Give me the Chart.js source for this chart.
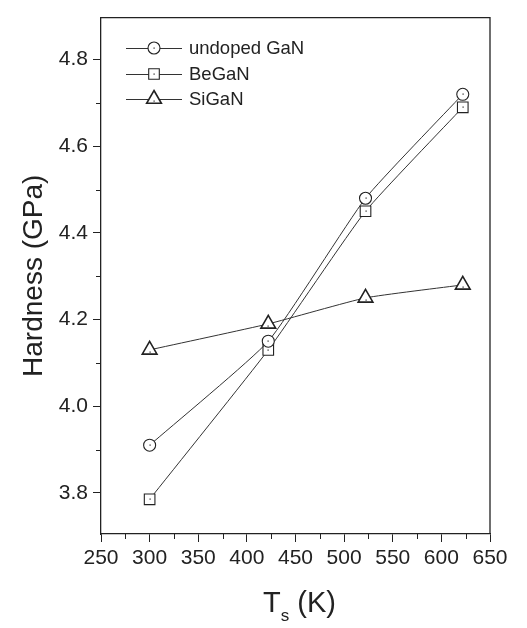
<!DOCTYPE html>
<html>
<head>
<meta charset="UTF-8">
<title>Hardness vs Ts</title>
<script src="https://cdn.jsdelivr.net/npm/chart.js@4/dist/chart.umd.min.js"></script>
<style>
  html, body { margin: 0; padding: 0; background: #fff; }
  #wrap { width: 527px; height: 628px; position: relative; }
</style>
</head>
<body>
<div id="wrap"><canvas id="chart" width="527" height="628"></canvas></div>
<script>
// data
const temps = [300, 422, 522, 622];
const undopedGaN = [3.91, 4.15, 4.48, 4.72];
const beGaN = [3.785, 4.13, 4.45, 4.69];
const siGaN = [4.13, 4.19, 4.25, 4.28];
const seriesNames = ['undoped GaN', 'BeGaN', 'SiGaN'];

const xTicks = [250, 300, 350, 400, 450, 500, 550, 600, 650];
const yTicks = [3.8, 4.0, 4.2, 4.4, 4.6, 4.8];
const xMinor = [275, 325, 375, 425, 475, 525, 575, 625];
const yMinor = [3.9, 4.1, 4.3, 4.5, 4.7];

const INK = '#222';
const FONT = '"Liberation Sans", Arial, sans-serif';

function toPts(ys) {
  return temps.map((t, i) => ({ x: t, y: ys[i] }));
}

function makeSet(label, ys, style, radius) {
  return {
    label,
    data: toPts(ys),
    borderColor: '#333',
    borderWidth: 1,
    pointStyle: style,
    pointRadius: radius,
    pointHoverRadius: radius,
    pointBorderColor: INK,
    pointBackgroundColor: '#fff',
    pointBorderWidth: style === 'triangle' ? 1.6 : 1.1,
    tension: 0.15,
    fill: false
  };
}

// minor ticks, frame, centre dots, legend and axis titles
const extras = {
  id: 'extras',
  afterDatasetsDraw(chart) {
    const ctx = chart.ctx;
    const a = chart.chartArea;
    const xs = chart.scales.x, ys = chart.scales.y;
    ctx.save();
    ctx.strokeStyle = INK;
    ctx.lineWidth = 1.3;
    // frame top and right
    ctx.beginPath();
    ctx.moveTo(a.left, a.top); ctx.lineTo(a.right, a.top); ctx.lineTo(a.right, a.bottom);
    ctx.stroke();
    // minor ticks
    ctx.lineWidth = 1;
    ctx.beginPath();
    xMinor.forEach(v => {
      const px = Math.round(xs.getPixelForValue(v)) + 0.5;
      ctx.moveTo(px, a.bottom); ctx.lineTo(px, a.bottom + 5);
    });
    yMinor.forEach(v => {
      const py = Math.round(ys.getPixelForValue(v)) + 0.5;
      ctx.moveTo(a.left, py); ctx.lineTo(a.left - 5, py);
    });
    ctx.stroke();
    // dots in the middle of the markers
    ctx.fillStyle = INK;
    chart.data.datasets.forEach((ds, i) => {
      chart.getDatasetMeta(i).data.forEach(p => {
        const dy = ds.pointStyle === 'triangle' ? 2 : 0;
        ctx.fillRect(Math.round(p.x) - 0.5, Math.round(p.y) + dy - 0.5, 1.2, 1.2);
      });
    });
    // legend
    const rows = [48, 74, 99];
    ctx.font = '18.5px ' + FONT;
    ctx.textBaseline = 'middle';
    chart.data.datasets.forEach((ds, i) => {
      const y = rows[i];
      ctx.strokeStyle = '#333';
      ctx.lineWidth = 1;
      ctx.beginPath();
      ctx.moveTo(126, y + 0.5); ctx.lineTo(182, y + 0.5);
      ctx.stroke();
      ctx.fillStyle = '#fff';
      ctx.strokeStyle = INK;
      ctx.lineWidth = ds.pointBorderWidth;
      Chart.helpers.drawPoint(ctx, { pointStyle: ds.pointStyle, radius: ds.pointRadius, borderWidth: ds.pointBorderWidth }, 154, y);
      ctx.fillStyle = INK;
      ctx.fillRect(153.5, y - 0.5 + (ds.pointStyle === 'triangle' ? 2 : 0), 1.2, 1.2);
      ctx.fillStyle = INK;
      ctx.textAlign = 'left';
      ctx.fillText(seriesNames[i], 189, y + 1);
    });
    // y title
    ctx.save();
    ctx.translate(34, (a.top + a.bottom) / 2);
    ctx.rotate(-Math.PI / 2);
    ctx.textAlign = 'center';
    ctx.textBaseline = 'middle';
    ctx.font = '28px ' + FONT;
    ctx.fillText('Hardness (GPa)', 0, 0);
    ctx.restore();
    // x title with subscript
    ctx.textBaseline = 'alphabetic';
    ctx.textAlign = 'left';
    ctx.font = '29px ' + FONT;
    const tW = ctx.measureText('T').width;
    ctx.font = '17px ' + FONT;
    const sW = ctx.measureText('s').width;
    ctx.font = '29px ' + FONT;
    const kW = ctx.measureText(' (K)').width;
    let x0 = (a.left + a.right) / 2 + 4 - (tW + sW + kW) / 2;
    ctx.fillText('T', x0, 612);
    ctx.font = '17px ' + FONT;
    ctx.fillText('s', x0 + tW, 621);
    ctx.font = '29px ' + FONT;
    ctx.fillText(' (K)', x0 + tW + sW, 612);
    ctx.restore();
  }
};

new Chart(document.getElementById('chart'), {
  type: 'line',
  data: {
    datasets: [
      makeSet(seriesNames[0], undopedGaN, 'circle', 6),
      makeSet(seriesNames[1], beGaN, 'rect', 7.5),
      makeSet(seriesNames[2], siGaN, 'triangle', 8.5)
    ]
  },
  options: {
    responsive: false,
    animation: false,
    layout: { padding: { left: 0, right: 37, top: 6, bottom: 0 } },
    plugins: { legend: { display: false }, tooltip: { enabled: false } },
    scales: {
      x: {
        type: 'linear',
        min: 250, max: 650,
        afterBuildTicks: s => { s.ticks = xTicks.map(v => ({ value: v })); },
        afterFit: s => { s.height = 94; },
        border: { color: INK, width: 1.3 },
        grid: { drawOnChartArea: false, tickLength: 8, tickColor: INK, tickWidth: 1 },
        ticks: { color: INK, font: { family: FONT, size: 21 }, padding: 4, maxRotation: 0, autoSkip: false }
      },
      y: {
        type: 'linear',
        min: 3.705, max: 4.897,
        afterBuildTicks: s => { s.ticks = yTicks.map(v => ({ value: v })); },
        afterFit: s => { s.width = 101; },
        border: { color: INK, width: 1.3 },
        grid: { drawOnChartArea: false, tickLength: 8, tickColor: INK, tickWidth: 1 },
        ticks: { color: INK, font: { family: FONT, size: 21 }, padding: 5, callback: v => v.toFixed(1) }
      }
    }
  },
  plugins: [extras]
});
</script>
</body>
</html>
